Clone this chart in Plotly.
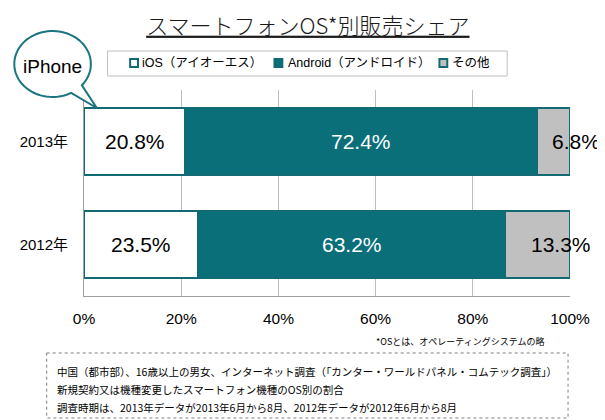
import numpy as np
import plotly.graph_objects as go

# ---------------- data ----------------
years = ["2013年", "2012年"]
series_names = ["iOS（アイオーエス）", "Android（アンドロイド）", "その他"]
ios = [20.8, 23.5]
android = [72.4, 63.2]
other = [6.8, 13.3]
x_tick_values = [0, 20, 40, 60, 80, 100]
x_tick_labels = ["0%", "20%", "40%", "60%", "80%", "100%"]

title_text = "スマートフォンOS*別販売シェア"
callout_text = "iPhone"
footnote_text = "*OSとは、オペレーティングシステムの略"
source_lines = [
    "中国（都市部）、16歳以上の男女、インターネット調査（「カンター・ワールドパネル・コムテック調査」）",
    "新規契約又は機種変更したスマートフォン機種のOS別の割合",
    "調査時期は、2013年データが2013年6月から8月、2012年データが2012年6月から8月",
]

# ---------------- style ----------------
TEAL = "#0B6F7A"
EDGE = "#126B74"
GRAY = "#C0C0C0"
GRID = "#BFBFBF"
LATIN = "Liberation Sans, Arial, Noto Sans CJK JP"
CJK = "Noto Sans CJK JP, Liberation Sans"

# page offset (browser body margin) compensation
OFF = 8
W, H = 605, 420
PW, PH = 495, 206
ML, MT = 75 - OFF, 90 - OFF
MR, MB = W - ML - PW, H - MT - PH


def px(x):
    return (x - OFF - ML) / PW


def py(y):
    return (MT + PH - (y - OFF)) / PH


fig = go.Figure()
series = [ios, android, other]
fills = ["white", TEAL, GRAY]
for name, vals, col in zip(series_names, series, fills):
    fig.add_trace(go.Bar(
        y=years, x=vals, name=name, orientation="h",
        marker=dict(color=col, line=dict(color=EDGE, width=2)),
        showlegend=False, hoverinfo="x+y",
    ))

# data labels (centered in segments; small grey segments shifted right as in source)
annotations = []
label_colors = ["black", "white", "black"]
label_shift = [0, 0, 23]
for si, vals in enumerate(series):
    for yi, yr in enumerate(years):
        start = sum(series[k][yi] for k in range(si))
        annotations.append(dict(
            x=start + vals[yi] / 2, y=yr, xref="x", yref="y",
            text=f"{vals[yi]:.1f}%", showarrow=False, xshift=label_shift[si],
            font=dict(family=LATIN, size=21, color=label_colors[si]),
        ))

# footnote
annotations.append(dict(
    x=px(546), y=py(341), xref="paper", yref="paper", xanchor="right", yanchor="middle",
    text=footnote_text, showarrow=False, font=dict(family=CJK, size=9, color="black"),
))
# source box lines
for i, line in enumerate(source_lines):
    annotations.append(dict(
        x=px(45), y=py(371 + 18 * i), xref="paper", yref="paper", xanchor="left", yanchor="middle",
        text=line, showarrow=False, font=dict(family=CJK, size=10.5, color="black"),
    ))
# callout text
annotations.append(dict(
    x=px(43), y=py(66), xref="paper", yref="paper", xanchor="center", yanchor="middle",
    text=callout_text, showarrow=False, font=dict(family=LATIN, size=19, color="black"),
))

# manual legend
legend_items = [(122, 132), (269, 281), (437, 448)]
legend_marker_fill = ["white", TEAL, GRAY]
shapes = []
shapes.append(dict(type="rect", xref="paper", yref="paper",
                   x0=px(99), x1=px(506), y0=py(51), y1=py(76),
                   line=dict(color=GRID, width=1), fillcolor="white", layer="above"))
for (mx, tx), name, col in zip(legend_items, series_names, legend_marker_fill):
    shapes.append(dict(type="rect", xref="paper", yref="paper",
                       x0=px(mx), x1=px(mx + 8), y0=py(59), y1=py(67),
                       line=dict(color=EDGE, width=2), fillcolor=col, layer="above"))
    annotations.append(dict(
        x=px(tx), y=py(63.5), xref="paper", yref="paper", xanchor="left", yanchor="middle",
        text=name, showarrow=False, font=dict(family=LATIN, size=12.5, color="black"),
    ))

# source dashed box
shapes.append(dict(type="rect", xref="paper", yref="paper",
                   x0=px(37), x1=px(568), y0=py(353), y1=py(418),
                   line=dict(color="#7F7F7F", width=1, dash="dot"), layer="above"))

# callout bubble (ellipse with tail)
cx, cy, rx, ry = 43, 64, 39, 33
a1, a2 = np.deg2rad(40), np.deg2rad(61 - 360)
ts = np.linspace(a1, a2, 80)
pts = [(cx + rx * np.cos(t), cy + ry * np.sin(t)) for t in ts]
pts.append((88, 108))
path = "M " + " L ".join(f"{px(x):.4f},{py(y):.4f}" for x, y in pts) + " Z"
shapes.append(dict(type="path", xref="paper", yref="paper", path=path,
                   fillcolor="white", line=dict(color="#1A7580", width=2), layer="above"))

fig.update_layout(
    width=W, height=H,
    margin=dict(l=ML, r=MR, t=MT, b=MB, pad=0),
    barmode="stack", bargap=0.34,
    paper_bgcolor="white", plot_bgcolor="white",
    showlegend=False,
    title=dict(text=title_text, x=px(303), xref="paper", xanchor="center",
               y=1 - (26 - OFF) / H, yref="container", yanchor="middle",
               font=dict(family=CJK, size=22, weight=300, color="#1a1a1a", lineposition="under")),
    xaxis=dict(range=[0, 100], tickvals=x_tick_values, ticktext=x_tick_labels,
               showgrid=True, gridcolor=GRID, gridwidth=1, zeroline=False,
               showline=True, linecolor="#A0A0A0", linewidth=1,
               ticks="", ticklabelstandoff=8,
               tickfont=dict(family=LATIN, size=15.5, color="black")),
    yaxis=dict(categoryorder="array", categoryarray=years, autorange="reversed",
               showgrid=False, zeroline=False, showline=True, linecolor="#A0A0A0", linewidth=1,
               ticks="", ticklabelstandoff=12,
               tickfont=dict(family=LATIN, size=15, color="black")),
    annotations=annotations,
    shapes=shapes,
)

fig.write_html("out.html")
